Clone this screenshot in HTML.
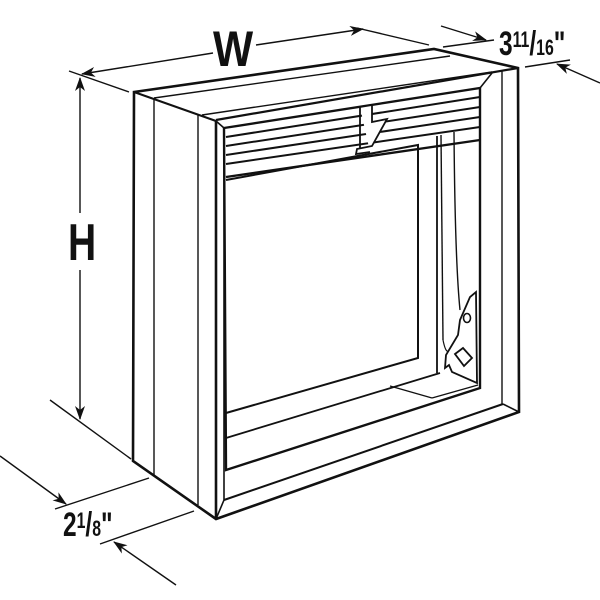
<!DOCTYPE html>
<html><head><style>body{margin:0;background:#fff}svg{display:block}</style></head><body>
<svg width="600" height="600" viewBox="0 0 600 600" xmlns="http://www.w3.org/2000/svg">
<defs><marker id="a" markerWidth="14" markerHeight="10" refX="13" refY="5" orient="auto" markerUnits="userSpaceOnUse"><path d="M0,0 L14,5 L0,10 L4,5 Z" fill="#111"/></marker></defs>
<g fill="none" stroke="#111" stroke-linejoin="miter">
<path d="M134,92 L434,49 L518,68 L519,412 L216,519 L133,461 Z" stroke-width="2.6"/>
<line x1="134" y1="92" x2="216" y2="121" stroke-width="2"/>
<line x1="154" y1="98" x2="154" y2="475" stroke-width="1.4"/>
<line x1="198" y1="115" x2="198" y2="505" stroke-width="1.4"/>
<line x1="216" y1="121" x2="216" y2="519" stroke-width="2.6"/>
<line x1="154" y1="98" x2="450" y2="56" stroke-width="1.4"/>
<line x1="202" y1="115" x2="492" y2="72" stroke-width="1.4"/>
<line x1="216" y1="120" x2="518" y2="68" stroke-width="2.2"/>
<line x1="502" y1="71" x2="502" y2="404" stroke-width="1.4"/>
<line x1="216" y1="519" x2="224" y2="500" stroke-width="1.6"/>
<line x1="224" y1="500" x2="503" y2="404" stroke-width="2"/>
<line x1="503" y1="404" x2="519" y2="412" stroke-width="1.6"/>
<line x1="216" y1="121" x2="224" y2="128" stroke-width="1.6"/>
<path d="M492,73 L480,88" stroke-width="1.6"/>
<path d="M224,128 L480,88 L480,388 L226,470 Z" stroke-width="2.4"/>
<line x1="224" y1="128" x2="224" y2="500" stroke-width="1.6"/>
<g stroke-width="2">
<line x1="226" y1="137" x2="480" y2="97"/>
<line x1="226" y1="146" x2="480" y2="107"/>
<line x1="226" y1="155" x2="480" y2="117"/>
<line x1="226" y1="164" x2="480" y2="127"/>
<line x1="226" y1="177" x2="480" y2="140" stroke-width="2.4"/>
</g>
<path d="M360,107 L372,105 L372,122 L387,119 L372,146 L357,149 L356,154 L370,152" fill="#fff" stroke-width="1.8"/>
<path d="M360,107 L360,149" stroke-width="1.8"/>
<path d="M226,180 L418,145 L418,358 L226,413" stroke-width="2"/>
<line x1="226" y1="438" x2="440" y2="373" stroke-width="1.8"/>
<line x1="390" y1="386" x2="432" y2="398" stroke-width="1.4"/>
<line x1="432" y1="398" x2="478" y2="385" stroke-width="1.4"/>
<line x1="437" y1="136" x2="437" y2="373" stroke-width="1.8"/>
<line x1="441" y1="135" x2="443" y2="340" stroke-width="1.4"/>
<path d="M454,132 Q455,260 460,310" stroke-width="1.4"/>
<path d="M443,340 Q447,360 452,345" stroke-width="1.2"/>
<path d="M476,292 L477,383 L452,372 L449,365 L445,368 L446,355 L458,335 L460,320 L470,297 Z" fill="#fff" stroke-width="1.8"/>
<ellipse cx="467" cy="318" rx="3.5" ry="4.5" stroke-width="1.6"/>
<path d="M455,354 L463,348 L472,358 L464,366 Z" stroke-width="1.8"/>
<g stroke-width="1.4">
<line x1="69" y1="71" x2="129" y2="92"/>
<line x1="213" y1="53" x2="82" y2="74" marker-end="url(#a)"/>
<line x1="256" y1="45" x2="363" y2="29" marker-end="url(#a)"/>
<line x1="357" y1="28" x2="429" y2="45"/>
<line x1="441" y1="26" x2="486" y2="40" marker-end="url(#a)"/>
<line x1="443" y1="47" x2="494" y2="40"/>
<line x1="525" y1="67" x2="570" y2="60"/>
<line x1="600" y1="83" x2="557" y2="64" marker-end="url(#a)"/>
<line x1="80" y1="213" x2="80" y2="78" marker-end="url(#a)"/>
<line x1="80" y1="270" x2="80" y2="419" marker-end="url(#a)"/>
<line x1="50" y1="400" x2="131" y2="459"/>
<line x1="55" y1="509" x2="149" y2="478"/>
<line x1="0" y1="456" x2="66" y2="504" marker-end="url(#a)"/>
<line x1="100" y1="544" x2="194" y2="511"/>
<line x1="176" y1="585" x2="114" y2="542" marker-end="url(#a)"/>
</g>
</g>
<g font-family="Liberation Sans, sans-serif" font-weight="bold" fill="#111">
<text x="0" y="0" font-size="50" transform="translate(213,66) scale(0.85,1)">W</text>
<text x="0" y="0" font-size="52" transform="translate(68,260) scale(0.75,1)">H</text>
<text x="0" y="0" font-size="34" transform="translate(499,55) scale(0.72,1)">3<tspan font-size="22" dy="-8">11</tspan><tspan dy="8">/</tspan><tspan font-size="22">16</tspan>"</text>
<text x="0" y="0" font-size="34" transform="translate(63,536) scale(0.72,1)">2<tspan font-size="22" dy="-8">1</tspan><tspan dy="8">/</tspan><tspan font-size="22">8</tspan>"</text>
</g>
</svg>
</body></html>
